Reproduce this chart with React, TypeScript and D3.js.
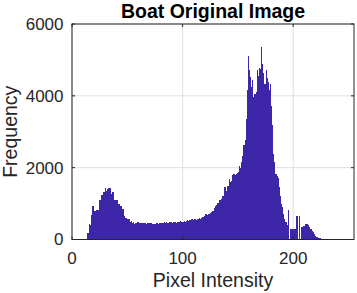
import React from "react";
import * as d3 from "d3";

const title = "Boat Original Image";
const xLabel = "Pixel Intensity";
const yLabel = "Frequency";
const xTicks = [0, 100, 200];
const yTicks = [0, 2000, 4000, 6000];

// Histogram counts for pixel intensities 0..255
const zeros0to13 = [0, 0, 0, 0, 0, 0, 0, 0, 0, 0, 0, 0, 0, 0];
const counts14to52 = [
  170, 420, 400, 680, 920, 920, 800, 800, 830, 830,
  1110, 1110, 1230, 1230, 1320, 1320, 1440, 1350, 1400, 1440,
  1440, 1280, 1320, 1320, 1100, 1100, 1100, 1100, 1000, 940,
  940, 860, 860, 650, 600, 600, 560, 560, 490,
];
const counts53to99 = [
  510, 470, 480, 440, 470, 460, 490, 480, 460, 470,
  450, 460, 470, 450, 440, 460, 450, 470, 450, 440,
  430, 440, 440, 460, 450, 440, 470, 450, 460, 450,
  480, 470, 490, 460, 470, 480, 490, 470, 500, 480,
  490, 460, 500, 490, 480, 510, 500,
];
const counts100to156 = [
  500, 510, 490, 520, 530, 510, 540, 530, 560, 540,
  560, 570, 550, 580, 570, 590, 583, 590, 620, 650,
  700, 700, 680, 710, 720, 730, 770, 800, 880, 935,
  960, 1010, 1010, 1110, 1110, 1120, 1200, 1460, 1460, 1340,
  1490, 1490, 1675, 1600, 1620, 1790, 1815, 1800, 1830, 1860,
  1880, 2040, 2000, 2150, 2315, 2620, 2760,
];
const counts157to195 = [
  3360, 4150, 5120, 4720, 4520, 4240, 4450, 3960, 4060, 4100,
  4720, 4550, 4780, 4740, 5370, 4890, 4640, 4320, 4720, 4500,
  4380, 4150, 4330, 3730, 3180, 2390, 2160, 1830, 1760, 1710,
  1460, 1200, 1000, 910, 720, 580, 490, 400, 815,
];
const counts196to225 = [
  0, 305, 305, 305, 305, 280, 300, 650, 0, 650,
  0, 350, 350, 370, 370, 425, 425, 400, 350, 305,
  280, 240, 200, 150, 110, 75, 40, 37, 37, 10,
];
const counts226to255 = new Array(30).fill(0);

const counts: number[] = [
  ...zeros0to13,
  ...counts14to52,
  ...counts53to99,
  ...counts100to156,
  ...counts157to195,
  ...counts196to225,
  ...counts226to255,
];

const W = 357;
const H = 293;
const left = 72;
const right = 354;
const top = 24;
const bottom = 239.5;

export default function App() {
  const x = d3.scaleLinear().domain([0, 255]).range([left, right]);
  const y = d3.scaleLinear().domain([0, 6000]).range([bottom, top]);
  const font = "'Liberation Sans', Arial, Helvetica, sans-serif";
  const axisColor = "#262626";
  const gridColor = "#dfdfdf";
  const tickLen = 3;

  return (
    <svg
      width={W}
      height={H}
      style={{ position: "absolute", left: 0, top: 0, background: "#fff" }}
      fontFamily={font}
    >
      <rect x={0} y={0} width={W} height={H} fill="#fff" />
      {/* grid */}
      {xTicks.map((t) => (
        <line key={"gx" + t} x1={x(t)} x2={x(t)} y1={top} y2={bottom} stroke={gridColor} strokeWidth={1} />
      ))}
      {yTicks.map((t) => (
        <line key={"gy" + t} x1={left} x2={right} y1={y(t)} y2={y(t)} stroke={gridColor} strokeWidth={1} />
      ))}
      {/* bars */}
      <g shapeRendering="crispEdges">
        {counts.map((c, i) =>
          c > 0 ? (
            <rect
              key={i}
              x={x(i)}
              y={y(c)}
              width={x(i + 1) - x(i)}
              height={y(0) - y(c)}
              fill="#3e26a8"
            />
          ) : null
        )}
      </g>
      {/* box */}
      <rect x={left} y={top} width={right - left} height={bottom - top} fill="none" stroke={axisColor} strokeWidth={1} />
      {/* ticks */}
      {xTicks.map((t) => (
        <g key={"tx" + t}>
          <line x1={x(t)} x2={x(t)} y1={bottom} y2={bottom - tickLen} stroke={axisColor} />
          <line x1={x(t)} x2={x(t)} y1={top} y2={top + tickLen} stroke={axisColor} />
          <text x={x(t)} y={263.5} textAnchor="middle" fontSize={17} fill={axisColor}>
            {t}
          </text>
        </g>
      ))}
      {yTicks.map((t) => (
        <g key={"ty" + t}>
          <line x1={left} x2={left + tickLen} y1={y(t)} y2={y(t)} stroke={axisColor} />
          <line x1={right} x2={right - tickLen} y1={y(t)} y2={y(t)} stroke={axisColor} />
          <text x={63.5} y={y(t)} dy="0.35em" textAnchor="end" fontSize={17} fill={axisColor}>
            {t}
          </text>
        </g>
      ))}
      <text x={(left + right) / 2} y={287} textAnchor="middle" fontSize={19.5} fill={axisColor}>
        {xLabel}
      </text>
      <text
        transform={`translate(17, ${(top + bottom) / 2}) rotate(-90)`}
        textAnchor="middle"
        fontSize={19.5}
        fill={axisColor}
      >
        {yLabel}
      </text>
      <text x={(left + right) / 2} y={18} textAnchor="middle" fontSize={19.5} fontWeight="bold" fill="#000">
        {title}
      </text>
    </svg>
  );
}
